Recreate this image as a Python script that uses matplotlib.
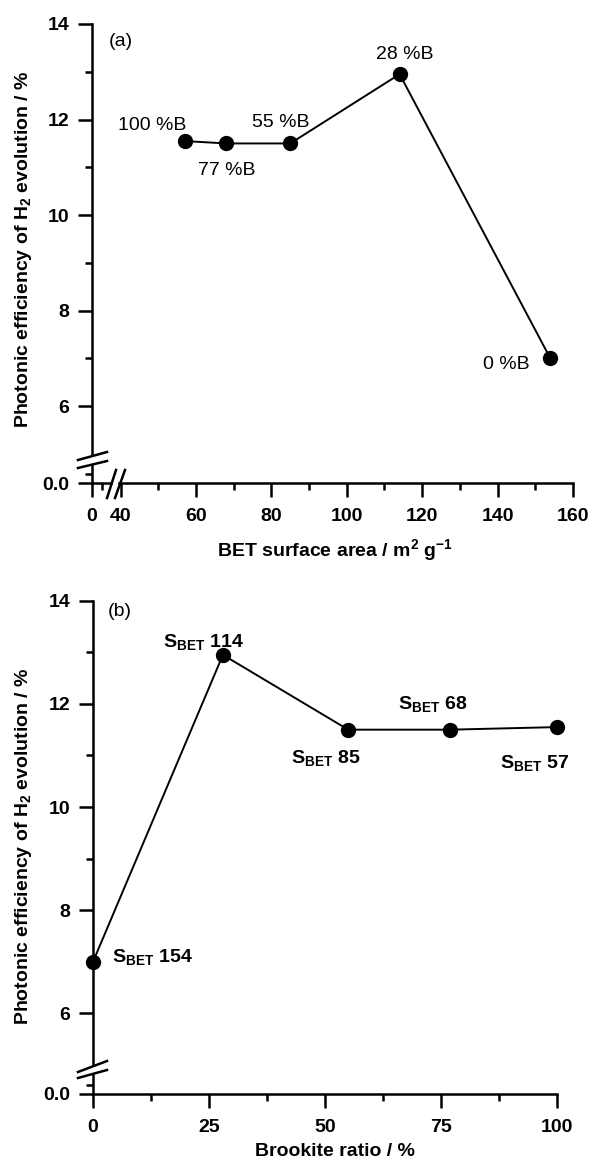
import numpy as np
import matplotlib
matplotlib.use("Agg")
import matplotlib.pyplot as plt
from matplotlib.lines import Line2D

plt.rcParams["font.family"] = ["Liberation Sans", "DejaVu Sans"]
plt.rcParams["font.size"] = 14
plt.rcParams["font.weight"] = "bold"
plt.rcParams["axes.labelweight"] = "bold"
plt.rcParams["mathtext.fontset"] = "custom"
plt.rcParams["mathtext.rm"] = "Liberation Sans:bold"
plt.rcParams["mathtext.bf"] = "Liberation Sans:bold"
plt.rcParams["mathtext.it"] = "Liberation Sans:bold"
plt.rcParams["mathtext.default"] = "bf"

# samples, ordered by brookite content
brookite_pct = [0, 28, 55, 77, 100]
bet_area = [154, 114, 85, 68, 57]
efficiency = [7.0, 12.95, 11.5, 11.5, 11.55]

# label offsets in pixels (dx, dy) from each point
offsets_a = {0: (-67, -11), 28: (-24, 15), 55: (-38, 16), 77: (-28, -32), 100: (-67, 11)}
offsets_b = {0: (19, 0), 28: (-60, 8), 55: (-57, -33), 77: (-52, 21), 100: (-57, -41)}

W, H = 593, 1159
fig = plt.figure(figsize=(W / 100, H / 100), dpi=100)


def add_ax(left, top, right, bottom):
    return fig.add_axes([left / W, 1 - bottom / H, (right - left) / W, (bottom - top) / H])


def style(ax, sides):
    for s in ["left", "right", "top", "bottom"]:
        ax.spines[s].set_visible(s in sides)
        ax.spines[s].set_linewidth(1.8)
    ax.patch.set_alpha(0)
    ax.tick_params(which="both", direction="out", width=1.8)
    ax.tick_params(which="major", length=10)
    ax.tick_params(which="minor", length=5)
    ax.tick_params(axis="y", pad=6.5)
    ax.tick_params(axis="x", pad=8)
    if "left" not in sides:
        ax.tick_params(axis="y", which="both", left=False, labelleft=False)
    if "bottom" not in sides:
        ax.tick_params(axis="x", which="both", bottom=False, labelbottom=False)


def brk(x0, y0, x1, y1):
    fig.add_artist(Line2D([x0 / W, x1 / W], [1 - y0 / H, 1 - y1 / H],
                          color="black", lw=1.8, transform=fig.transFigure))


ylabel = "Photonic efficiency of H$_2$ evolution / %"

# ---------- (a) efficiency vs BET surface area ----------
axA = add_ax(92, 24, 573, 454)
style(axA, ["left"])
axA.set_xlim(32.4, 160)
axA.set_ylim(5, 14)
axA.set_yticks([6, 8, 10, 12, 14])
axA.set_yticks([7, 9, 11, 13], minor=True)

order = np.argsort(bet_area)
xa = np.array(bet_area)[order]
ya = np.array(efficiency)[order]
axA.plot(xa, ya, "-o", color="black", lw=1.4, ms=10, clip_on=False)
for b, s, e in zip(brookite_pct, bet_area, efficiency):
    axA.annotate(f"{b} %B", xy=(s, e), xytext=offsets_a[b], textcoords="offset pixels",
                 ha="left", va="baseline", fontweight="normal", fontsize=14)

axA_l = add_ax(92, 465, 111, 483)
style(axA_l, ["left", "bottom"])
axA_l.set_xlim(0, 4.75)
axA_l.set_ylim(0, 0.5)
axA_l.set_xticks([0])
axA_l.set_xticks([2.5], minor=True)
axA_l.set_yticks([0])
axA_l.set_yticklabels(["0.0"])
axA_l.set_yticks([0.25], minor=True)

axA_r = add_ax(119, 465, 573, 483)
style(axA_r, ["bottom"])
axA_r.set_xlim(39.58, 160)
axA_r.set_ylim(0, 0.5)
axA_r.set_xticks(np.arange(40, 161, 20))
axA_r.set_xticks(np.arange(50, 151, 20), minor=True)

brk(78, 460, 107, 452)
brk(78, 468, 107, 461)
brk(107, 498, 116, 470)
brk(115, 498, 125, 470)

fig.text(121 / W, 1 - 42 / H, "(a)", ha="center", va="center", fontweight="normal")
fig.text(24 / W, 1 - 249 / H, ylabel, rotation=90, ha="center", va="center")
fig.text(335 / W, 1 - 556 / H, "BET surface area / m$^2$ g$^{-1}$", ha="center", va="baseline")

# ---------- (b) efficiency vs brookite ratio ----------
axB = add_ax(93, 600.7, 557, 1065)
style(axB, ["left"])
axB.set_xlim(0, 100)
axB.set_ylim(5, 14)
axB.set_yticks([6, 8, 10, 12, 14])
axB.set_yticks([7, 9, 11, 13], minor=True)
axB.plot(brookite_pct, efficiency, "-o", color="black", lw=1.4, ms=10, clip_on=False)
for b, s, e in zip(brookite_pct, bet_area, efficiency):
    axB.annotate(f"S$_{{BET}}$ {s}", xy=(b, e), xytext=offsets_b[b], textcoords="offset pixels",
                 ha="left", va="baseline", fontsize=14)

axB_lo = add_ax(93, 1075, 557, 1094)
style(axB_lo, ["left", "bottom"])
axB_lo.set_xlim(0, 100)
axB_lo.set_ylim(0, 0.5)
axB_lo.set_xticks([0, 25, 50, 75, 100])
axB_lo.set_xticks([12.5, 37.5, 62.5, 87.5], minor=True)
axB_lo.set_yticks([0])
axB_lo.set_yticklabels(["0.0"])
axB_lo.set_yticks([0.25], minor=True)

brk(78, 1072, 107, 1061)
brk(78, 1078, 107, 1070)

fig.text(120 / W, 1 - 611 / H, "(b)", ha="center", va="center", fontweight="normal")
fig.text(24 / W, 1 - 846 / H, ylabel, rotation=90, ha="center", va="center")
fig.text(335 / W, 1 - 1156 / H, "Brookite ratio / %", ha="center", va="baseline")

fig.savefig("out.png", dpi=100)
